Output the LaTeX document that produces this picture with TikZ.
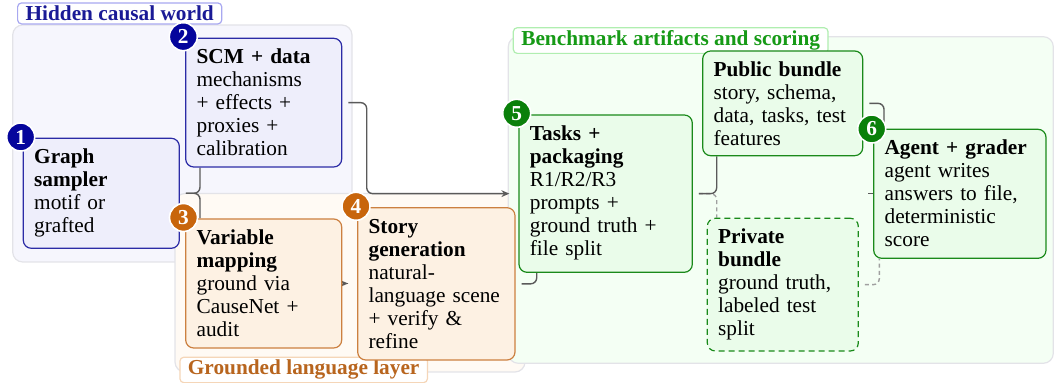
\documentclass[tikz,border=0pt]{standalone}
\usepackage{fontspec}
\setmainfont{Liberation Serif}
\usetikzlibrary{fit,arrows.meta}
\pgfdeclarelayer{bglayer}
\pgfdeclarelayer{connlayer}
\pgfsetlayers{bglayer,connlayer,main}
\definecolor{bBox}{HTML}{2B2BA6}
\definecolor{bFill}{HTML}{EEEEFB}
\definecolor{bBg}{HTML}{F6F6FD}
\definecolor{bCirc}{HTML}{05059C}
\definecolor{bText}{HTML}{1A1A96}
\definecolor{bLab}{HTML}{A8A8F0}
\definecolor{oBox}{HTML}{CC8040}
\definecolor{oFill}{HTML}{FDF1E3}
\definecolor{oBg}{HTML}{FFFAF4}
\definecolor{oCirc}{HTML}{C8650C}
\definecolor{oText}{HTML}{B8651E}
\definecolor{oLab}{HTML}{F5D6B8}
\definecolor{gBox}{HTML}{1A8A1A}
\definecolor{gFill}{HTML}{EAFCEA}
\definecolor{gBg}{HTML}{F4FFF4}
\definecolor{gCirc}{HTML}{0A800A}
\definecolor{gText}{HTML}{169A16}
\definecolor{gLab}{HTML}{B0EEB0}
\definecolor{bgLine}{HTML}{E3E3E8}
\definecolor{connC}{HTML}{5A5A5A}
\definecolor{dconnC}{HTML}{A0A0A0}
\begin{document}
\begin{tikzpicture}[x=0.5pt,y=-0.5pt,
  font=\fontsize{10.65}{11.5}\selectfont,
  bgbox/.style={draw=bgLine, line width=0.6pt, rounded corners=5pt, inner sep=0pt},
  lab/.style={fill=white, line width=0.6pt, rounded corners=2pt, inner xsep=4pt, inner ysep=1.5pt, anchor=base west, font=\fontsize{10.65}{11.5}\selectfont\bfseries},
  box/.style={line width=0.6pt, rounded corners=4pt, inner sep=0pt},
  bbox/.style={box, draw=bBox, fill=bFill},
  obox/.style={box, draw=oBox, fill=oFill},
  gbox/.style={box, draw=gBox, fill=gFill},
  numc/.style={circle, minimum size=14pt, inner sep=0pt, draw=white, line width=0.8pt, text=white, font=\fontsize{10.65}{11.5}\selectfont\bfseries},
  txt/.style={anchor=base west, align=left, text width=76pt, inner sep=0pt},
  conn/.style={draw=connC, line width=0.7pt, rounded corners=3pt, shorten <=3pt},
  dconn/.style={conn, draw=dconnC, dash pattern=on 2pt off 1.6pt},
  arr/.style={-{Stealth[length=4pt,width=3.4pt]}, shorten >=4.5pt}
]
\useasboundingbox (0,0) rectangle (1055,383);
% background groups and their labels
\begin{pgfonlayer}{bglayer}
\node[bgbox, fill=bBg, fit={(12.7,25) (352,262)}] (hidden) {};
\node[bgbox, fill=oBg, fit={(175,193.5) (525,372)}] (grounded) {};
\node[bgbox, fill=gBg, fit={(508.3,36.7) (1053.3,363.3)}] (bench) {};
\node[lab, draw=bLab, text=bText] (labH) at (17,20.7) {Hidden causal world};
\node[lab, draw=oLab, text=oText] (labG) at (179.3,375) {Grounded language layer};
\node[lab, draw=gLab, text=gText] (labB) at (512.7,45.7) {Benchmark artifacts and scoring};
\end{pgfonlayer}
% boxes
\node[bbox, fit={(23.3,138.3) (179.3,248.3)}] (graph) {};
\node[bbox, fit={(185.7,38.3) (341.7,167)}] (scm) {};
\node[obox, fit={(185.7,219) (341.7,348)}] (var) {};
\node[obox, fit={(357.7,207.7) (515,360)}] (story) {};
\node[gbox, fit={(519,115) (692.3,272.3)}] (tasks) {};
\node[gbox, fit={(702.7,51) (862.7,155.7)}] (public) {};
\node[gbox, dash pattern=on 3pt off 2pt, fit={(707.3,218.3) (858.3,351)}] (private) {};
\node[gbox, fit={(873.7,129.3) (1046,258.3)}] (agent) {};
% box texts
\node[txt] (graphT) at (33.8,163.8) {\textbf{Graph}\\\textbf{sampler}\\motif or\\grafted};
\node[txt] (scmT) at (196.2,63.8) {\textbf{SCM + data}\\mechanisms\\+ effects +\\proxies +\\calibration};
\node[txt] (varT) at (196.2,244.5) {\textbf{Variable}\\\textbf{mapping}\\ground via\\CauseNet +\\audit};
\node[txt] (storyT) at (368.2,233.2) {\textbf{Story}\\\textbf{generation}\\natural-\\language scene\\+ verify \&\\refine};
\node[txt] (tasksT) at (529.5,140.5) {\textbf{Tasks +}\\\textbf{packaging}\\R1/R2/R3\\prompts +\\ground truth +\\file split};
\node[txt] (publicT) at (713.2,76.5) {\textbf{Public bundle}\\story, schema,\\data, tasks, test\\features};
\node[txt] (privateT) at (717.8,243.8) {\textbf{Private}\\\textbf{bundle}\\ground truth,\\labeled test\\split};
\node[txt] (agentT) at (884.2,154.8) {\textbf{Agent + grader}\\agent writes\\answers to file,\\deterministic\\score};
% step numbers
\node[numc, fill=bCirc] (n1) at (20.7,137) {1};
\node[numc, fill=bCirc] (n2) at (183.3,36.7) {2};
\node[numc, fill=oCirc] (n3) at (183.5,217.5) {3};
\node[numc, fill=oCirc] (n4) at (356,206.3) {4};
\node[numc, fill=gCirc] (n5) at (516.7,113.3) {5};
\node[numc, fill=gCirc] (n6) at (871.7,129) {6};
% junction x positions
\coordinate (jA) at (200,0);
\coordinate (jB) at (366.7,0);
\coordinate (jC) at (536.7,0);
\coordinate (jD) at (716.7,0);
\coordinate (jE) at (884,0);
\coordinate (jF) at (879.3,0);
% connectors (behind boxes)
\begin{pgfonlayer}{connlayer}
\draw[dconn] (tasks.east) -| (jD |- private.north);
\draw[dconn] (private.east) -| (jF |- agent.south);
\draw[conn] (graph.east) -| (jA |- scm.south);
\draw[conn] (graph.east) -| (jA |- var.north);
\draw[conn, arr] (scm.east) -| (jB |- tasks.west) -- (tasks.west);
\draw[conn, arr] (var.east) -- (var.east -| story.west);
\draw[conn] (story.east) -| (jC |- tasks.south);
\draw[conn] (tasks.east) -| (jD |- public.south);
\draw[conn] (public.east) -| (jE |- agent.north);
\draw[draw=connC, line width=0.7pt] (agent.west) -- ++(-4.7,0);
\end{pgfonlayer}
\end{tikzpicture}
\end{document}
